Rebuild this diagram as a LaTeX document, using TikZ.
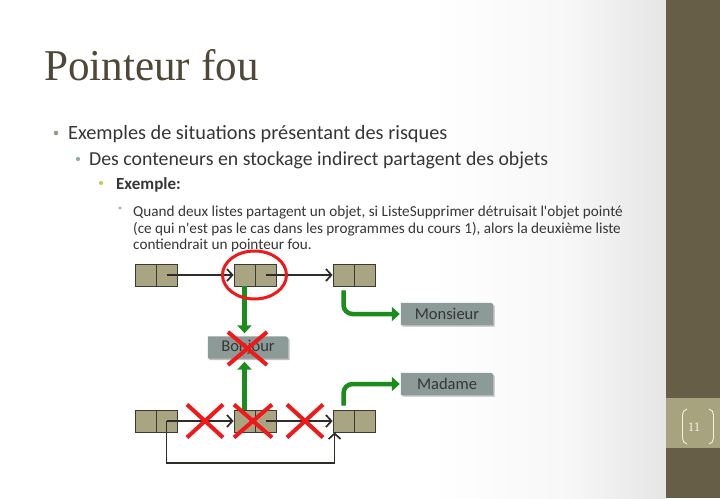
\documentclass[tikz,border=0pt]{standalone}
\usepackage{fontspec}
\setmainfont{Carlito}
\newfontfamily\titlefont{Liberation Serif}
\usetikzlibrary{arrows.meta,calc,backgrounds,shadows}

\definecolor{barbrown}{HTML}{675E48}
\definecolor{bandtan}{HTML}{A7A37E}
\definecolor{numcream}{HTML}{F6F1DE}
\definecolor{titlebrown}{HTML}{4F4737}
\definecolor{bodytext}{HTML}{363636}
\definecolor{celltan}{HTML}{A9A583}
\definecolor{cellline}{HTML}{3A3A32}
\definecolor{tagfill}{HTML}{8C9B97}
\definecolor{ptrgreen}{HTML}{1C8C1C}
\definecolor{crossred}{HTML}{F01818}
\definecolor{linkdark}{HTML}{2F2B26}
\definecolor{bulletA}{HTML}{9C9A72}
\definecolor{bulletB}{HTML}{93ABB0}
\definecolor{bulletC}{HTML}{C8C844}
\definecolor{bulletD}{HTML}{A8A8A8}

\begin{document}
\begin{tikzpicture}[x=1pt,y=-1pt,
  cell/.style={draw=cellline, line width=0.8pt, fill=celltan,
    minimum width=21pt, minimum height=22pt, inner sep=0pt,
    drop shadow={shadow xshift=1.2pt, shadow yshift=-1.2pt, opacity=0.3}},
  tag/.style={minimum height=22pt, inner sep=0pt,
    font=\fontsize{16.5}{16.5}\selectfont, text=bodytext},
  link/.style={draw=linkdark, line width=1.7pt,
    -{Straight Barb[length=5.5pt,width=12pt,line width=1.7pt]}},
  gptr/.style={draw=ptrgreen, line width=4.5pt,
    -{Triangle[length=8pt,width=14pt]}},
  cross/.style={draw=crossred, line width=4pt},
  lvlA/.style={anchor=base west, inner sep=0pt, text=bodytext, font=\fontsize{20.3}{24}\selectfont},
  lvlB/.style={anchor=base west, inner sep=0pt, text=bodytext, font=\fontsize{19.8}{22}\selectfont},
  lvlC/.style={anchor=base west, inner sep=0pt, text=bodytext, font=\bfseries\fontsize{17}{19}\selectfont},
  lvlD/.style={anchor=base west, inner sep=0pt, text=bodytext, font=\fontsize{15.2}{16.5}\selectfont},
]
\useasboundingbox (0,0) rectangle (720,498);

% page background, side bar and page-number band
\begin{scope}[on background layer]
  \fill[white] (0,0) rectangle (720,498);
  \shade[left color=white, right color=black!3] (430,0) rectangle (566,498);
  \shade[left color=black!3, right color=black!10] (566,0) rectangle (666,498);
\end{scope}
\fill[barbrown] (666,0) rectangle (720,498);
\fill[bandtan] (666,398) rectangle (720,448);
\node[font=\titlefont\fontsize{13}{13}\selectfont, text=numcream] (pnum) at (694,427) {11};
\draw[numcream, line width=0.9pt] (687,409) to[out=190,in=90] (682.5,415) -- (682.5,438) to[out=-90,in=170] (687,444);
\draw[numcream, line width=0.9pt] (709,409) to[out=-10,in=90] (713.5,415) -- (713.5,438) to[out=-90,in=10] (709,444);

% title
\node[anchor=base west, inner sep=0pt, text=titlebrown,
  font=\titlefont\fontsize{44}{44}\selectfont, xscale=0.98] (title) at (44,80) {Pointeur fou};

% bullet list
\fill[bulletA] (56,133) circle (2.3);
\node[lvlA] (l1) at (68,139) {Exemples de situations présentant des risques};
\fill[bulletB] (78,159) circle (2.1);
\node[lvlB] (l2) at (89,165.5) {Des conteneurs en stockage indirect partagent des objets};
\fill[bulletC] (101,183) circle (2);
\node[lvlC] (l3) at (116,189) {Exemple:};
\fill[bulletD] (120,208) circle (1.6);
\node[lvlD] (l4a) at (133,216.5) {Quand deux listes partagent un objet, si ListeSupprimer détruisait l\textquotesingle objet pointé};
\node[lvlD] (l4b) at (133,233) {(ce qui n\textquotesingle est pas le cas dans les programmes du cours 1), alors la deuxième liste};
\node[lvlD] (l4c) at (133,249.5) {contiendrait un pointeur fou.};

% first list
\node[cell] (a1l) at (145.5,275) {};
\node[cell] (a1r) at (166.5,275) {};
\node[cell] (b1l) at (244.5,275) {};
\node[cell] (b1r) at (265.5,275) {};
\node[cell] (c1l) at (343.5,275) {};
\node[cell] (c1r) at (364.5,275) {};

% second list
\node[cell] (a2l) at (145.5,421) {};
\node[cell] (a2r) at (166.5,421) {};
\node[cell] (b2l) at (244.5,421) {};
\node[cell] (b2r) at (265.5,421) {};
\node[cell] (c2l) at (343.5,421) {};
\node[cell] (c2r) at (364.5,421) {};

% pointed objects
\node[tag, minimum width=80pt] (bon) at (248,347.5) {Bonjour};
\node[tag, minimum width=92pt] (mon) at (447,314) {Monsieur};
\node[tag, minimum width=92pt] (mad) at (447,384) {Madame};
\begin{scope}[on background layer]
  \foreach \t in {bon,mon,mad}{
    \fill[black, opacity=0.25] ($(\t.south west)+(1.5,1.5)$) -- ($(\t.north west)+(1.5,1.5)$)
      -- ($(\t.north east)+(-4.5,1.5)$) .. controls ($(\t.north east)+(1.5,1.5)$) .. ($(\t.north east)+(1.5,7.5)$)
      -- ($(\t.south east)+(1.5,1.5)$) -- cycle;
    \fill[tagfill] (\t.south west) -- (\t.north west)
      -- ($(\t.north east)+(-6,0)$) .. controls (\t.north east) .. ($(\t.north east)+(0,6)$)
      -- (\t.south east) -- cycle;
  }
\end{scope}

% next links
\draw[link] (a1r.center) -- (b1l.west);
\draw[link] (b1r.center) -- (c1l.west);
\draw[link] (a2r.center) -- (b2l.west);
\draw[link] (b2r.center) -- (c2l.west);
\draw[link] (a2r.center) -- ++(0,42) -| ([xshift=2pt]c2l.south west);

% element pointers
\draw[gptr, shorten >=3pt] (b1l.south) -- (b1l.south |- bon.north);
\draw[gptr, shorten >=3pt] (b2l.north) -- (b2l.north |- bon.south);
\draw[gptr, rounded corners=9pt, shorten <=4pt, shorten >=1pt] (c1l.south) -- (c1l.south |- mon.west) -- (mon.west);
\draw[gptr, rounded corners=9pt, shorten <=4pt, shorten >=1pt] (c2l.north) -- (c2l.north |- mad.west) -- (mad.west);

% shared object and invalidated pointers
\draw[crossred, line width=3pt] (254.5,275) ellipse (32 and 24);
\foreach \cx/\cy/\hx/\hy in {205/421/18/16.5, 253/421/19/16.5, 305/421/18/16.5, 247.5/348.5/19.5/16.5}
  \draw[cross] (\cx-\hx,\cy-\hy) -- (\cx+\hx,\cy+\hy) (\cx-\hx,\cy+\hy) -- (\cx+\hx,\cy-\hy);
\end{tikzpicture}
\end{document}
